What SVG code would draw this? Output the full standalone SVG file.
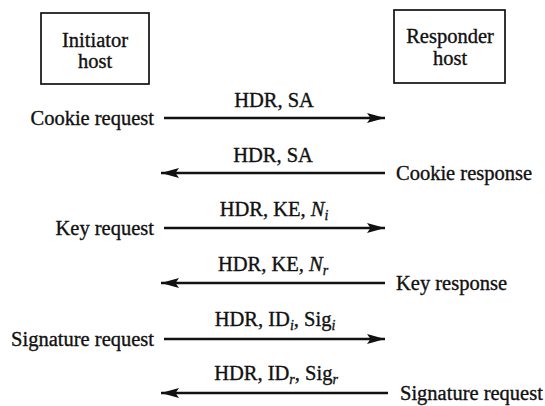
<svg xmlns="http://www.w3.org/2000/svg" width="545" height="406" viewBox="0 0 545 406">
  <style>
    text { font-family: "Liberation Serif", "Times New Roman", serif; font-size: 20.5px; fill: #111; stroke: #111; stroke-width: 0.35; }
    .box { fill: #fff; stroke: #111; stroke-width: 1.7; }
    .msg { stroke: #111; stroke-width: 2.6; fill: none; marker-end: url(#head); }
    .sub { font-size: 14px; font-style: italic; }
    .it { font-style: italic; }
    .mid { text-anchor: middle; }
    .end { text-anchor: end; }
  </style>
  <defs>
    <!-- slender filled arrowhead, tip at the line end -->
    <marker id="head" markerUnits="userSpaceOnUse" viewBox="0 0 19 11" markerWidth="19" markerHeight="11" refX="18" refY="5.5" orient="auto">
      <path d="M0,0.6 L18,5.5 L0,10.4 L3.5,5.5 Z" fill="#111"/>
    </marker>
  </defs>
  <rect width="545" height="406" fill="#fff"/>

  <g id="initiator">
    <rect class="box" x="41" y="13" width="108" height="71"/>
    <text class="mid" x="95" y="47">Initiator</text>
    <text class="mid" x="95" y="68">host</text>
  </g>

  <g id="responder">
    <rect class="box" x="394" y="10" width="111" height="73"/>
    <text class="mid" x="450" y="43">Responder</text>
    <text class="mid" x="450" y="65">host</text>
  </g>

  <g id="connectors">
    <line class="msg" x1="164" y1="118" x2="385" y2="118"/>
    <line class="msg" x1="385" y1="173" x2="161" y2="173"/>
    <line class="msg" x1="164" y1="228" x2="385" y2="228"/>
    <line class="msg" x1="385" y1="283" x2="161" y2="283"/>
    <line class="msg" x1="164" y1="339" x2="385" y2="339"/>
    <line class="msg" x1="388" y1="393" x2="161" y2="393"/>
  </g>

  <g id="labels">
    <text class="mid" x="274" y="107">HDR, SA</text>
    <text class="mid" x="273" y="162">HDR, SA</text>
    <text class="mid" x="274" y="216">HDR, KE, <tspan class="it">N</tspan><tspan class="sub" dy="4">i</tspan></text>
    <text class="mid" x="273" y="271">HDR, KE, <tspan class="it">N</tspan><tspan class="sub" dy="4">r</tspan></text>
    <text class="mid" x="275" y="326">HDR, ID<tspan class="sub" dy="4">i</tspan><tspan dy="-4">, Sig</tspan><tspan class="sub" dy="4">i</tspan></text>
    <text class="mid" x="276" y="380">HDR, ID<tspan class="sub" dy="4">r</tspan><tspan dy="-4">, Sig</tspan><tspan class="sub" dy="4">r</tspan></text>
  </g>

  <g id="steps">
    <text class="end" x="154" y="125">Cookie request</text>
    <text x="396" y="180">Cookie response</text>
    <text class="end" x="154" y="235">Key request</text>
    <text x="396" y="290">Key response</text>
    <text class="end" x="154" y="346">Signature request</text>
    <text x="400" y="400">Signature request</text>
  </g>
</svg>
